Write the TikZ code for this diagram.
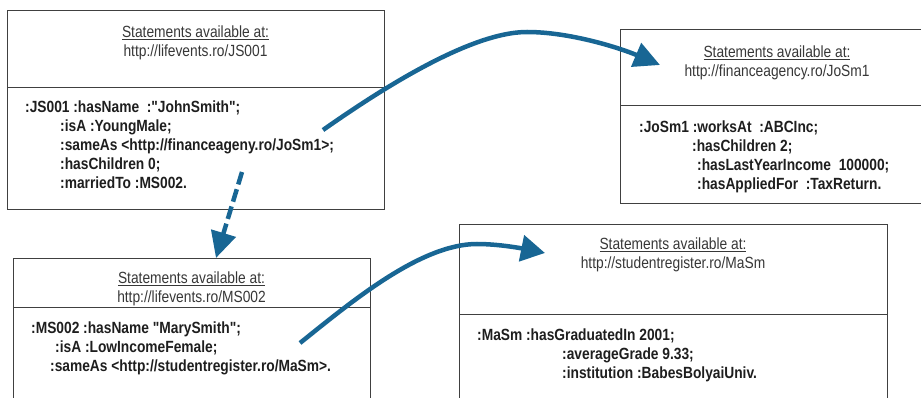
\documentclass[tikz,border=0pt]{standalone}
\usepackage{fontspec}
\setmainfont{Liberation Sans}
\newfontfamily\boxfont[FakeStretch=0.85]{Liberation Sans}
\usetikzlibrary{arrows.meta,calc}
\definecolor{LinkClr}{RGB}{24,102,148}
\definecolor{FrameClr}{RGB}{64,64,64}
\definecolor{HeadClr}{RGB}{55,55,55}
\definecolor{TripleClr}{RGB}{30,30,30}

\tikzset{
  boxline/.style={draw=FrameClr,line width=0.9pt},
  heading/.style={align=center,inner sep=0pt,text=HeadClr,
    font=\boxfont\fontsize{16.2}{19}\selectfont},
  triples/.style={align=left,inner sep=0pt,anchor=north west,text=TripleClr,
    font=\boxfont\bfseries\fontsize{16.2}{19}\selectfont},
  weblink/.style={draw=LinkClr,line width=4.5pt,
    -{Triangle[length=26pt,width=25pt,fill=LinkClr]}},
}

\begin{document}
\begin{tikzpicture}[x=1pt,y=-1pt]
\useasboundingbox (0,0) rectangle (921,398);
\clip (0,0) rectangle (921,398);

\node[boxline,minimum width=377pt,minimum height=199pt,anchor=north west] (js) at (7,10) {};
\node[boxline,minimum width=320pt,minimum height=174pt,anchor=north west] (josm) at (620,29) {};
\node[boxline,minimum width=357pt,minimum height=160pt,anchor=north west] (ms) at (13,258) {};
\node[boxline,minimum width=428pt,minimum height=190pt,anchor=north west] (masm) at (459,224) {};

\draw[boxline] (js.west |- 0,87) -- (js.east |- 0,87);
\draw[boxline] (josm.west |- 0,105) -- (josm.east |- 0,105);
\draw[boxline] (ms.west |- 0,307) -- (ms.east |- 0,307);
\draw[boxline] (masm.west |- 0,314) -- (masm.east |- 0,314);

\node[heading] (js-src) at (195.5,43) {\underline{Statements available at:}\\http://lifevents.ro/JS001};
\node[heading] (josm-src) at (777,62.5) {\underline{Statements available at:}\\http://financeagency.ro/JoSm1};
\node[heading] (ms-src) at (191.5,289) {\underline{Statements available at:}\\http://lifevents.ro/MS002};
\node[heading] (masm-src) at (673,254.5) {\underline{Statements available at:}\\http://studentregister.ro/MaSm};

\node[triples] (js-triples) at (25,101) {:JS001 :hasName\ \ :"JohnSmith";\\
  \hspace*{35pt}:isA :YoungMale;\\
  \hspace*{35pt}:sameAs <http://financeageny.ro/JoSm1>;\\
  \hspace*{35pt}:hasChildren 0;\\
  \hspace*{35pt}:marriedTo :MS002.};
\node[triples] (josm-triples) at (639,121) {:JoSm1 :worksAt\ \ :ABCInc;\\
  \hspace*{53pt}:hasChildren 2;\\
  \hspace*{58pt}:hasLastYearIncome\ \ 100000;\\
  \hspace*{58pt}:hasAppliedFor\ \ :TaxReturn.};
\node[triples] (ms-triples) at (31,322) {:MS002 :hasName "MarySmith";\\
  \hspace*{24pt}:isA :LowIncomeFemale;\\
  \hspace*{19pt}:sameAs <http://studentregister.ro/MaSm>.};
\node[triples] (masm-triples) at (477,329) {:MaSm :hasGraduatedIn 2001;\\
  \hspace*{85pt}:averageGrade 9.33;\\
  \hspace*{85pt}:institution :BabesBolyaiUniv.};

\coordinate (js-same) at (323,130);
\coordinate (hop1) at (527,32);
\coordinate (josm-in) at (660,65);
\coordinate (js-wed) at (242,172);
\coordinate (ms-in) at (216,258);
\coordinate (ms-same) at (300,343);
\coordinate (hop2) at (477,244);
\coordinate (masm-in) at (545,253);

\draw[weblink] (js-same) .. controls +(57,-40) and +(-57,0) .. (hop1)
  .. controls +(43,0) and +(-40,-17) .. (josm-in);
\draw[weblink,dash pattern=on 13pt off 5pt] (js-wed) -- (ms-in);
\draw[weblink,-{Triangle[length=24pt,width=26pt,fill=LinkClr]}] (ms-same)
  .. controls +(50,-40) and +(-57,0) .. (hop2)
  .. controls +(23,0) and +(-20,-4) .. (masm-in);
\end{tikzpicture}
\end{document}
